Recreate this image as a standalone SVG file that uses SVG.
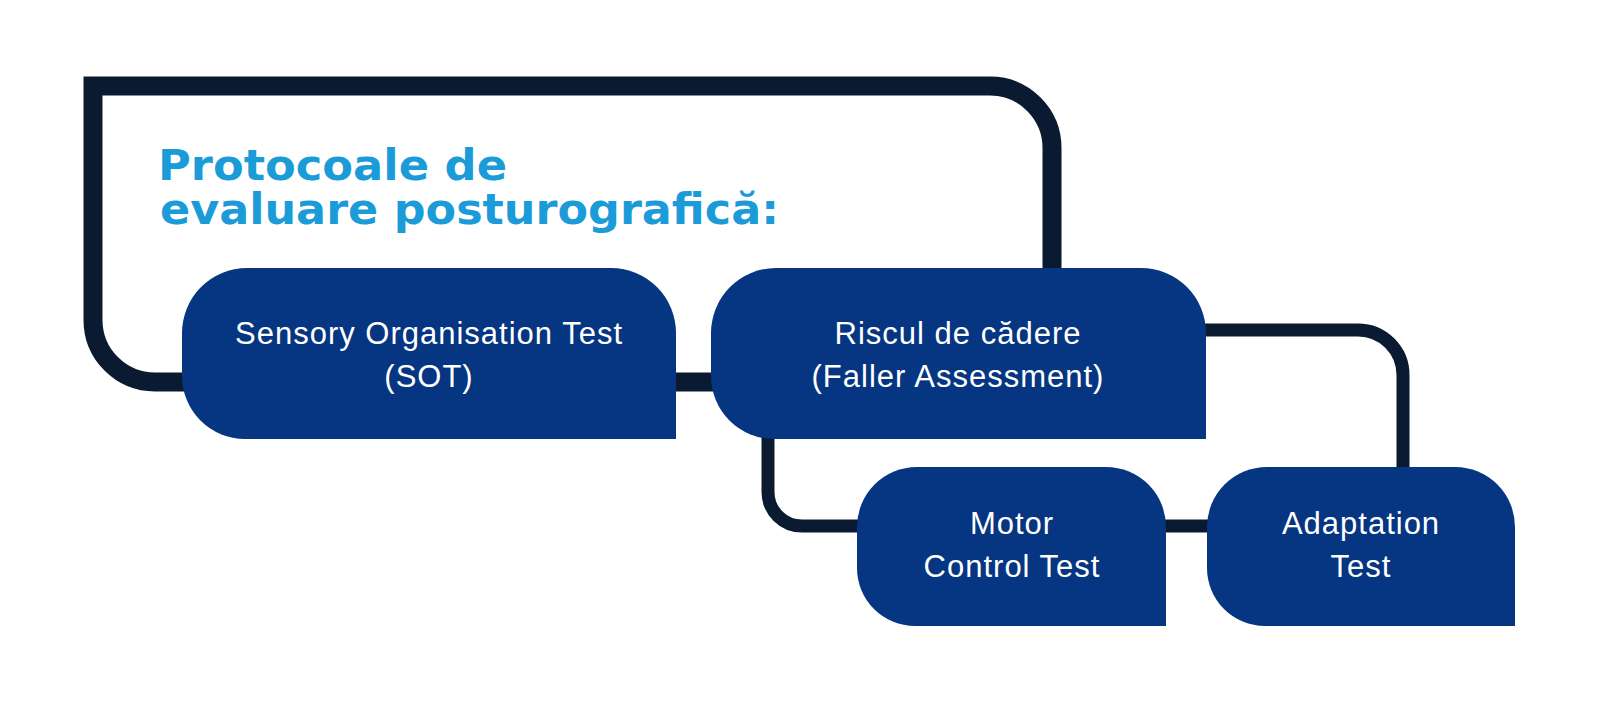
<svg xmlns="http://www.w3.org/2000/svg" width="1600" height="705" viewBox="0 0 1600 705">
<style>
.node{fill:#063581}
.lbl{font-family:"Liberation Sans",Arial,sans-serif;font-size:31px;fill:#ffffff;text-anchor:middle;letter-spacing:1px}
.title{font-family:"DejaVu Sans","Liberation Sans",sans-serif;font-weight:bold;font-size:43px;fill:#1b9bd7}
.frame{fill:none;stroke:#0a1a31;stroke-width:19}
.link{fill:none;stroke:#0a1a31;stroke-width:13}
</style>
<rect width="1600" height="705" fill="#ffffff"/>
<g id="connectors">
<path class="frame" d="M1052,290 V148 A62,62 0 0 0 990,86 H93 V320 A62,62 0 0 0 155,382 H730"/>
<path class="link" d="M1190,330 H1358 A45,45 0 0 1 1403,375 V480"/>
<path class="link" d="M768,420 V492 A34,34 0 0 0 802,526 H1220"/>
</g>
<g id="title">
<text class="title" x="158" y="180" textLength="349" lengthAdjust="spacingAndGlyphs">Protocoale de</text>
<text class="title" x="160" y="224" textLength="619" lengthAdjust="spacingAndGlyphs">evaluare posturografică:</text>
</g>
<g id="node-sot">
<path class="node" d="M247,268 H611 A65,65 0 0 1 676,333 V439 H245 A63,63 0 0 1 182,376 V333 A65,65 0 0 1 247,268 Z"/>
<text class="lbl" x="429" y="344">Sensory Organisation Test</text>
<text class="lbl" x="429" y="387">(SOT)</text>
</g>
<g id="node-riscul">
<path class="node" d="M776,268 H1141 A65,65 0 0 1 1206,333 V439 H774 A63,63 0 0 1 711,376 V333 A65,65 0 0 1 776,268 Z"/>
<text class="lbl" x="958" y="344">Riscul de cădere</text>
<text class="lbl" x="958" y="387">(Faller Assessment)</text>
</g>
<g id="node-motor">
<path class="node" d="M917,467 H1106 A60,60 0 0 1 1166,527 V626 H915 A58,58 0 0 1 857,568 V527 A60,60 0 0 1 917,467 Z"/>
<text class="lbl" x="1012" y="534">Motor</text>
<text class="lbl" x="1012" y="577">Control Test</text>
</g>
<g id="node-adaptation">
<path class="node" d="M1267,467 H1455 A60,60 0 0 1 1515,527 V626 H1265 A58,58 0 0 1 1207,568 V527 A60,60 0 0 1 1267,467 Z"/>
<text class="lbl" x="1361" y="534">Adaptation</text>
<text class="lbl" x="1361" y="577">Test</text>
</g>
</svg>
